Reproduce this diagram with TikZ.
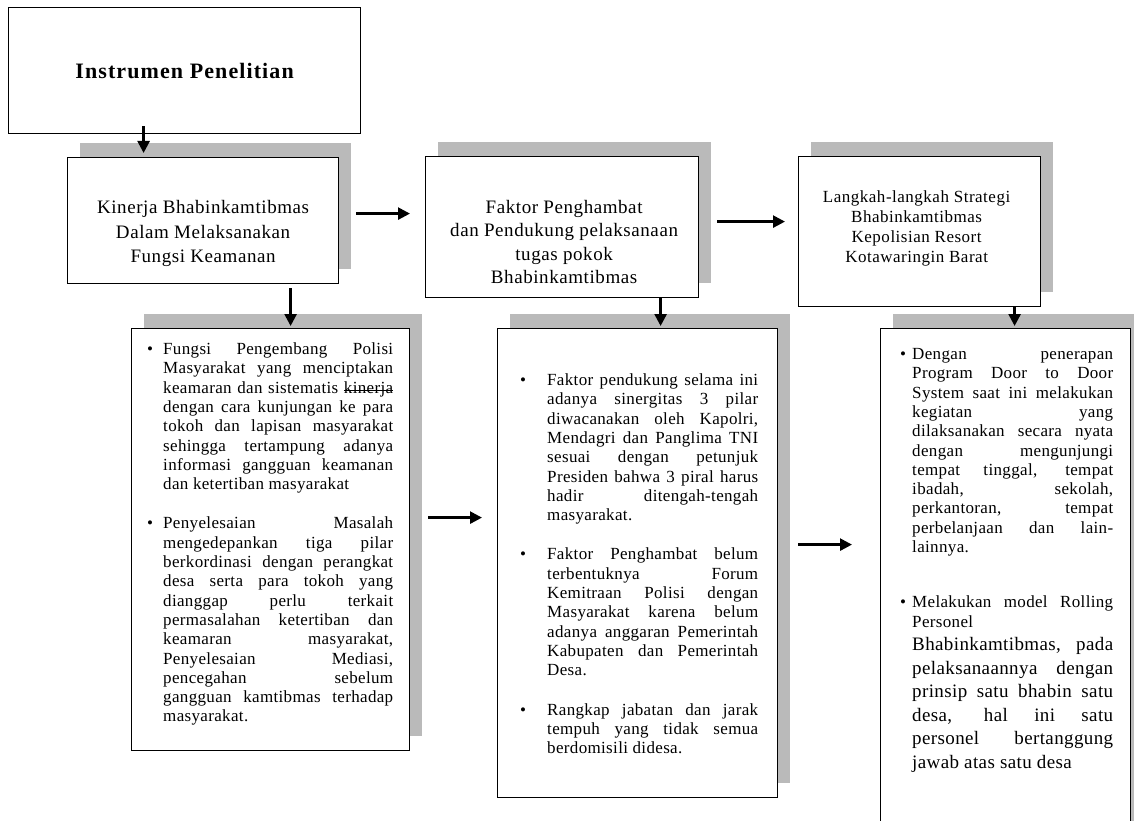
\documentclass[tikz,border=0pt]{standalone}
\usepackage{fontspec}
\setmainfont{Liberation Serif}
\newfontfamily\hurufrenggang[LetterSpace=2]{Liberation Serif}
\newfontfamily\hurufjudul[LetterSpace=3]{Liberation Serif}
\newfontfamily\hurufbesar[LetterSpace=5]{Liberation Serif}
\usepackage{tikz}
\usetikzlibrary{arrows.meta, positioning, calc, shadows}
\tikzset{>=Latex}
\tolerance=10000
\hbadness=10000

% butir dengan indentasi gantung
\newcommand{\butir}[1]{\par\hangindent=#1\hangafter=1\noindent\makebox[#1][l]{\textbullet}}
% kata yang dicoret
\newsavebox\kotakcoret
\newcommand{\coret}[1]{\sbox\kotakcoret{#1}\rlap{\usebox\kotakcoret}\rule[0.3ex]{\wd\kotakcoret}{0.6pt}}

\begin{document}
\begin{tikzpicture}[x=1pt, y=-1pt,
    kotak/.style={draw, line width=1.2pt, fill=white, inner sep=0pt, anchor=north west},
    bayang/.style={general shadow={fill=black!27, shadow xshift=12pt, shadow yshift=15pt}},
    judul/.style={align=center, font=\hurufjudul\fontsize{19}{24.5}\selectfont},
    isi/.style={text width=#1, align=justify, inner sep=0pt, anchor=north west,
                font=\hurufrenggang\fontsize{17}{19.3}\selectfont},
    panah/.style={line width=2.5pt, -{Triangle[length=12pt,width=12pt]}}]

            \fill[white] (0,0) rectangle (1134,821);
            \useasboundingbox (0,0) rectangle (1134,821);
            \clip (0,0) rectangle (1134,821);

            % kotak judul
            \node[kotak, minimum width=352, minimum height=126,
                  font=\hurufbesar\fontsize{22}{26}\selectfont\bfseries] (instrumen) at (8,7) {Instrumen Penelitian};

            % baris atas
            \node[kotak, bayang, minimum width=271, minimum height=126] (kinerja) at (67,157) {};
            \node[judul] (tkinerja) at ([yshift=-13pt]kinerja.center)
                {Kinerja Bhabinkamtibmas\\Dalam Melaksanakan\\Fungsi Keamanan};

            \node[kotak, bayang, minimum width=273, minimum height=141] (faktor) at (425,156) {};
            \node[judul, font=\hurufjudul\fontsize{19}{23.5}\selectfont] (tfaktor)
                at ([xshift=2pt,yshift=-15pt]faktor.center)
                {Faktor Penghambat\\dan Pendukung pelaksanaan\\tugas pokok\\Bhabinkamtibmas};

            \node[kotak, bayang, minimum width=242, minimum height=150] (langkah) at (798,156) {};
            \node[judul, font=\hurufjudul\fontsize{17}{20}\selectfont] (tlangkah)
                at ([xshift=-3pt,yshift=3pt]langkah.center)
                {Langkah-langkah Strategi\\Bhabinkamtibmas\\Kepolisian Resort\\Kotawaringin Barat};

            % baris bawah
            \node[kotak, bayang, minimum width=278, minimum height=422] (hasilA) at (131,328) {};
            \node[isi=246pt] (teksA) at ([shift={(16pt,-7pt)}]hasilA.north west) {%
                \butir{16pt}Fungsi Pengembang Polisi\linebreak
                Masyarakat yang menciptakan\linebreak
                keamaran dan sistematis \coret{kinerja}\linebreak
                dengan cara kunjungan ke para\linebreak
                tokoh dan lapisan masyarakat\linebreak
                sehingga tertampung adanya\linebreak
                informasi gangguan keamanan\linebreak
                dan ketertiban masyarakat\par
                \vspace{20pt}
                \butir{16pt}Penyelesaian Masalah\linebreak
                mengedepankan tiga pilar\linebreak
                berkordinasi dengan perangkat\linebreak
                desa serta para tokoh yang\linebreak
                dianggap perlu terkait\linebreak
                permasalahan ketertiban dan\linebreak
                keamaran masyarakat,\linebreak
                Penyelesaian Mediasi,\linebreak
                pencegahan sebelum\linebreak
                gangguan kamtibmas terhadap\linebreak
                masyarakat.\par};

            \node[kotak, bayang, minimum width=280, minimum height=469] (hasilB) at (497,328) {};
            \node[isi=238pt] (teksB) at ([shift={(23pt,-38pt)}]hasilB.north west) {%
                \butir{27pt}Faktor pendukung selama ini\linebreak
                adanya sinergitas 3 pilar\linebreak
                diwacanakan oleh Kapolri,\linebreak
                Mendagri dan Panglima TNI\linebreak
                sesuai dengan petunjuk\linebreak
                Presiden bahwa 3 piral harus\linebreak
                hadir ditengah-tengah\linebreak
                masyarakat.\par
                \vspace{20pt}
                \butir{27pt}Faktor Penghambat belum\linebreak
                terbentuknya Forum\linebreak
                Kemitraan Polisi dengan\linebreak
                Masyarakat karena belum\linebreak
                adanya anggaran Pemerintah\linebreak
                Kabupaten dan Pemerintah\linebreak
                Desa.\par
                \vspace{20pt}
                \butir{27pt}Rangkap jabatan dan jarak\linebreak
                tempuh yang tidak semua\linebreak
                berdomisili didesa.\par};

            \node[kotak, bayang, minimum width=250, minimum height=522] (hasilC) at (880,328) {};
            \node[isi=213pt] (teksC) at ([shift={(20pt,-12pt)}]hasilC.north west) {%
                \butir{12pt}Dengan penerapan\linebreak
                Program Door to Door\linebreak
                System saat ini melakukan\linebreak
                kegiatan yang\linebreak
                dilaksanakan secara nyata\linebreak
                dengan mengunjungi\linebreak
                tempat tinggal, tempat\linebreak
                ibadah, sekolah,\linebreak
                perkantoran, tempat\linebreak
                perbelanjaan dan lain-\linebreak
                lainnya.\par
                \vspace{36pt}
                \butir{12pt}Melakukan model Rolling\linebreak
                Personel\par
                {\fontsize{19}{23.5}\selectfont\hangindent=12pt\hangafter=0\noindent
                Bhabinkamtibmas, pada\linebreak
                pelaksanaannya dengan\linebreak
                prinsip satu bhabin satu\linebreak
                desa, hal ini satu\linebreak
                personel bertanggung\linebreak
                jawab atas satu desa\par}};

            % panah
            \draw[panah, shorten >=4pt] ([xshift=-41pt,yshift=8pt]instrumen.south) coordinate (p1) -- (p1 |- kinerja.north);
            \draw[panah, shorten <=17pt, shorten >=15pt] ([yshift=7pt]kinerja.east) coordinate (p2) -- (p2 -| faktor.west);
            \draw[panah, shorten <=18pt, shorten >=13pt] ([yshift=5.5pt]faktor.east) coordinate (p3) -- (p3 -| langkah.west);
            \draw[panah, shorten >=2pt] ([xshift=87.5pt,yshift=-4pt]kinerja.south) coordinate (p4) -- (p4 |- hasilA.north);
            \draw[panah, shorten >=2pt] ([xshift=98.5pt]faktor.south) coordinate (p5) -- (p5 |- hasilB.north);
            \draw[panah, shorten >=2pt] ([xshift=95pt]langkah.south) coordinate (p6) -- (p6 |- hasilC.north);
            \draw[panah, shorten <=18pt, shorten >=15pt] ([yshift=22pt]hasilA.east) coordinate (p7) -- (p7 -| hasilB.west);
            \draw[panah, shorten <=20pt, shorten >=28pt] ([yshift=45pt]hasilC.west -| hasilB.east) coordinate (p8) -- (p8 -| hasilC.west);

\end{tikzpicture}
\end{document}
